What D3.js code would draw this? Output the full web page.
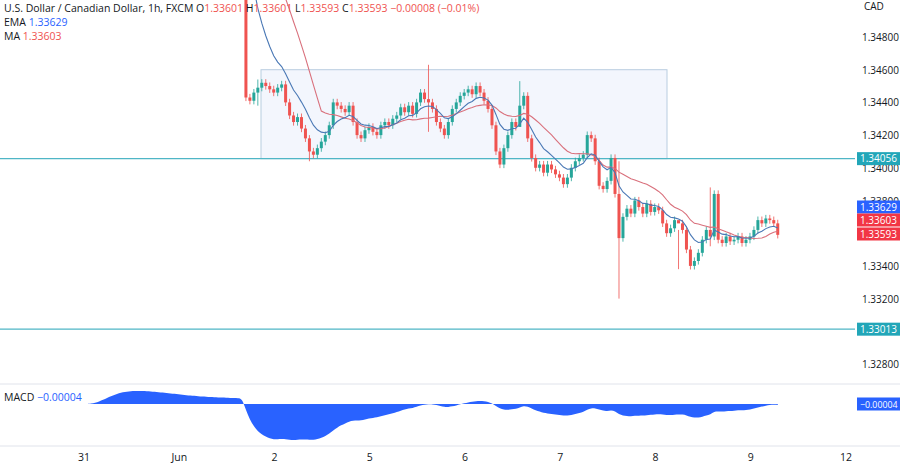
<!DOCTYPE html>
<html lang="en">
<head>
<meta charset="utf-8">
<script src="https://d3js.org/d3.v7.min.js"></script>
<style>
body{margin:0;background:#fff;font-family:"Open Sans",Roboto,sans-serif}
</style>
</head>
<body>
<script>
// tick labels on the time axis (trading day index -> label)
var dayLabels = ["31","Jun","2","5","6","7","8","9","12"];
var priceTicks = [1.348,1.346,1.344,1.342,1.340,1.338,1.334,1.332,1.328];
// hourly history before the visible range (above the chart), used by indicators
var priorCloses = [1.3520,1.3524,1.3530,1.3538,1.3546,1.3552,1.3556,1.3560,1.3562,1.3563,
 1.3562,1.3564,1.3563,1.3565,1.3564,1.3566,1.3565,1.3564,1.3566,1.3567,
 1.3566,1.3565,1.3567,1.3568,1.3566,1.3567,1.3569,1.3568,1.3570,1.3569,
 1.3571,1.3570,1.3572,1.3571,1.3573,1.3572,1.3574,1.3573,1.3575,1.3574];
// hourly closes, starting 1 Jun ~17:00
var closes = [
 1.3443,1.3441,1.3446,1.3449,1.3452,1.3450,1.3448,
 1.3446,1.3449,1.3451,1.3440,1.3432,1.3428,1.3431,1.3424,1.3418,1.3410,1.3408,1.3412,1.3416,1.3420,1.3426,1.3440,1.3438,1.3436,1.3434,1.3438,1.3428,1.3420,1.3418,1.3423,
 1.3425,1.3422,1.3420,1.3426,1.3428,1.3426,1.3430,1.3432,1.3437,1.3434,1.3438,1.3433,1.3440,1.3446,1.3442,1.3440,1.3436,1.3428,1.3424,1.3420,1.3428,1.3436,1.3440,1.3444,
 1.3446,1.3448,1.3445,1.3450,1.3446,1.3441,1.3436,1.3426,1.3410,1.3402,1.3412,1.3420,1.3428,1.3425,1.3438,1.3444,1.3418,1.3406,1.3400,1.3402,1.3397,1.3402,1.3399,1.3396,
 1.3394,1.3390,1.3394,1.3400,1.3404,1.3406,1.3408,1.3420,1.3418,1.3404,1.3389,1.3387,1.3392,1.3406,1.3384,1.3357,1.3370,1.3375,1.3372,1.3380,1.3376,1.3372,1.3378,1.3373,
 1.3376,1.3374,1.3366,1.3360,1.3363,1.3368,1.3366,1.3362,1.3350,1.3340,1.3343,1.3348,1.3356,1.3362,1.3358,1.3384,1.3356,1.3354,1.3358,1.3355,1.3356,1.3358,1.3354,1.3356,
 1.3358,1.3362,1.3368,1.3366,1.3369,1.3368,1.3366,1.3359
];
var firstOpen = 1.3505;
// long wicks: index -> [high, low]
var wickOverrides = {3:[1.3454,1.3438],46:[1.3463,1.3422],69:[1.3453,1.3434],94:[1.3404,1.3320],109:[1.3362,1.3338],117:[1.3388,1.3352],16:[1.3420,1.3404]};
var startT = 1.70;

var W = 900, H = 464, plotR = 855;
var svg = d3.select("body").append("svg").attr("width",W).attr("height",H);

var x = d3.scaleLinear().domain([0,8]).range([84,846]);
var y = d3.scaleLinear().domain([1.348,1.328]).range([37,364]);

var candles = closes.map(function(c,i){
  var o = i===0 ? firstOpen : closes[i-1];
  var w = wickOverrides[i];
  return {t:startT+i/24,o:o,c:c,
    h: w ? w[0] : Math.max(o,c)+0.00022,
    l: w ? w[1] : Math.min(o,c)-0.00022};
});

// indicators
var all = priorCloses.concat(closes);
function ema(arr,n){var k=2/(n+1),out=[],e=arr[0];arr.forEach(function(v){e=v*k+e*(1-k);out.push(e);});return out;}
function sma(arr,n){return arr.map(function(v,i){return d3.mean(arr.slice(Math.max(0,i-n+1),i+1));});}
var off = priorCloses.length;
var emaV = ema(all,9), maV = sma(all,20);
var e12 = ema(all,12), e26 = ema(all,26);
var macd = all.map(function(v,i){return e12[i]-e26[i];});
var tOf = function(i){return startT+(i-off)/24;};
var yM = d3.scaleLinear().domain([0,d3.min(macd)]).range([404,440]);

// rectangle
svg.append("rect").attr("x",261).attr("y",y(1.3460)).attr("width",406).attr("height",y(1.34056)-y(1.3460))
  .attr("fill","#f3f6fd").attr("stroke","#b8cde0");

// horizontal levels
[1.34056,1.33013].forEach(function(v){
  svg.append("line").attr("x1",0).attr("x2",plotR).attr("y1",y(v)).attr("y2",y(v)).attr("stroke","#4fb6c6").attr("stroke-width",1.2);
});

var plot = svg.append("g");
svg.append("clipPath").attr("id","cp").append("rect").attr("x",0).attr("y",0).attr("width",plotR).attr("height",380);
plot.attr("clip-path","url(#cp)");

// candles
var cw = 3;
candles.forEach(function(d){
  var col = d.c>=d.o ? "#26a69a" : "#ef5350";
  var cx = x(d.t);
  plot.append("line").attr("x1",cx).attr("x2",cx).attr("y1",y(d.h)).attr("y2",y(d.l)).attr("stroke",col).attr("opacity",0.8);
  plot.append("rect").attr("x",cx-cw/2).attr("width",cw).attr("y",y(Math.max(d.o,d.c)))
    .attr("height",Math.max(1,Math.abs(y(d.o)-y(d.c)))).attr("fill",col);
});

var ln = d3.line().x(function(d,i){return x(tOf(i));}).y(function(d){return y(d);});
plot.append("path").datum(maV).attr("d",ln).attr("fill","none").attr("stroke","#d9707c").attr("stroke-width",1.1);
plot.append("path").datum(emaV).attr("d",ln).attr("fill","none").attr("stroke","#4a78b5").attr("stroke-width",1.1);

// MACD pane
svg.append("line").attr("x1",0).attr("x2",W).attr("y1",384).attr("y2",384).attr("stroke","#e0e3eb");
var ar = d3.area().x(function(d,i){return x(tOf(i));}).y0(yM(0)).y1(function(d){return yM(d);}).curve(d3.curveBasis);
svg.append("path").datum(macd).attr("d",ar).attr("fill","#2962ff");
svg.append("text").attr("x",4).attr("y",401).attr("font-size",10.5).attr("fill","#131722").text("MACD");
svg.append("text").attr("x",37).attr("y",401).attr("font-size",10.5).attr("fill","#2962ff").text("\u22120.00004");

// x axis
dayLabels.forEach(function(l,i){
  svg.append("text").attr("x",x(i)).attr("y",461).attr("text-anchor","middle").attr("font-size",10.5).attr("fill","#131722").text(l);
});
svg.append("line").attr("x1",0).attr("x2",W).attr("y1",446).attr("y2",446).attr("stroke","#e0e3eb");

// right axis
svg.append("text").attr("x",864).attr("y",10).attr("font-size",10).attr("fill","#131722").text("CAD");
priceTicks.forEach(function(v){
  svg.append("text").attr("x",862).attr("y",y(v)+4).attr("font-size",10).attr("fill","#131722").text(v.toFixed(5));
});
function tag(v,yy,col,fs){
  svg.append("rect").attr("x",857).attr("y",yy-6.5).attr("width",43).attr("height",13).attr("fill",col);
  svg.append("text").attr("x",860).attr("y",yy+3.5).attr("font-size",fs||10).attr("fill","#fff").text(v);
}
tag("1.34056",y(1.34056),"#22a6b8");
tag("1.33013",y(1.33013),"#22a6b8");
tag("1.33629",207,"#2962ff");
tag("1.33603",220,"#f23645");
tag("1.33593",234,"#f23645");
tag("\u22120.00004",404,"#2962ff",8.8);

// header
var hd = svg.append("text").attr("x",4).attr("y",12).attr("font-size",10.5).attr("fill","#131722");
hd.append("tspan").text("U.S. Dollar / Canadian Dollar, 1h, FXCM  O");
hd.append("tspan").attr("fill","#ef5350").text("1.33601");
hd.append("tspan").text(" H");
hd.append("tspan").attr("fill","#ef5350").text("1.33601");
hd.append("tspan").text(" L");
hd.append("tspan").attr("fill","#ef5350").text("1.33593");
hd.append("tspan").text(" C");
hd.append("tspan").attr("fill","#ef5350").text("1.33593  \u22120.00008 (\u22120.01%)");
var l2 = svg.append("text").attr("x",4).attr("y",26).attr("font-size",10.5).attr("fill","#131722");
l2.append("tspan").text("EMA ");l2.append("tspan").attr("fill","#2962ff").text("1.33629");
var l3 = svg.append("text").attr("x",4).attr("y",40).attr("font-size",10.5).attr("fill","#131722");
l3.append("tspan").text("MA ");l3.append("tspan").attr("fill","#ef5350").text("1.33603");
</script>
</body>
</html>
